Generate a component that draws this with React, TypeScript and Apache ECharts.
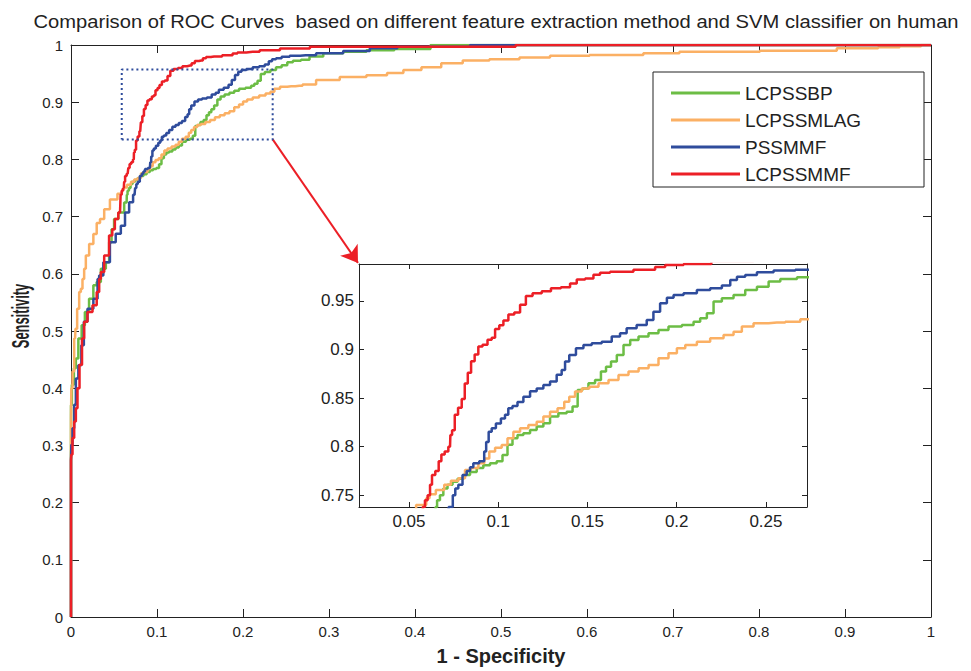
import React, { useEffect, useRef } from 'react';
import * as echarts from 'echarts';

const titleText = 'Comparison of ROC Curves  based on different feature extraction method and SVM classifier on human';
const xName = '1 - Specificity';
const yName = 'Sensitivity';
const seriesNames = ['LCPSSBP', 'LCPSSMLAG', 'PSSMMF', 'LCPSSMMF'];
const seriesColors = ['#6cbd45', '#fbb064', '#2f4c9c', '#ec1f26'];

const lcpssbp: number[][] = [
  [0, 0], [0, 0.37], [0.002, 0.406], [0.0047, 0.435], [0.0066, 0.452], [0.0105, 0.487], [0.0143, 0.51],
  [0.018, 0.533], [0.024, 0.5565], [0.028, 0.58], [0.0318, 0.5855], [0.0376, 0.609], [0.0434, 0.62],
  [0.0453, 0.655], [0.049, 0.678], [0.0512, 0.696], [0.059, 0.707], [0.0647, 0.7246], [0.0651, 0.738],
  [0.0664, 0.745], [0.0683, 0.75], [0.0702, 0.757], [0.073, 0.761], [0.0758, 0.764], [0.0786, 0.767],
  [0.0823, 0.771], [0.0861, 0.774], [0.0898, 0.778], [0.0935, 0.781], [0.0973, 0.783], [0.101, 0.785],
  [0.1038, 0.7915], [0.1066, 0.802], [0.1094, 0.8087], [0.1122, 0.812], [0.116, 0.8138], [0.1197, 0.8172],
  [0.1234, 0.8207], [0.1272, 0.8241], [0.1309, 0.831], [0.1365, 0.8344], [0.1402, 0.836], [0.1431, 0.8413],
  [0.1459, 0.8584], [0.1487, 0.86], [0.1524, 0.8653], [0.1561, 0.8687], [0.159, 0.8773], [0.1618, 0.8824],
  [0.1646, 0.8876], [0.1683, 0.8944], [0.1721, 0.9047], [0.1758, 0.9099], [0.1814, 0.9133], [0.187, 0.9167],
  [0.1926, 0.9202], [0.1982, 0.9236], [0.2076, 0.9253], [0.2113, 0.9287], [0.215, 0.9322], [0.2188, 0.9373],
  [0.2225, 0.9493], [0.2281, 0.9527], [0.2356, 0.9562], [0.2412, 0.9613], [0.2487, 0.9647], [0.2543, 0.9699],
  [0.2618, 0.9726], [0.273, 0.9744], [0.2817, 0.98], [0.305, 0.9855], [0.328, 0.988], [0.359, 0.991],
  [0.393, 0.993], [0.418, 0.993], [0.418, 1], [1, 1],
];

const lcpssmlag: number[][] = [
  [0, 0], [0, 0.348], [0.0008, 0.4], [0.0027, 0.429], [0.0047, 0.487], [0.0058, 0.504], [0.0085, 0.539],
  [0.0105, 0.568], [0.0124, 0.574], [0.0143, 0.591], [0.0163, 0.6087], [0.0182, 0.632], [0.024, 0.652],
  [0.028, 0.6696], [0.0318, 0.689], [0.0357, 0.696], [0.0415, 0.713], [0.049, 0.73], [0.059, 0.74],
  [0.0603, 0.747], [0.0627, 0.751], [0.0674, 0.7555], [0.0721, 0.761], [0.0749, 0.765], [0.0805, 0.7675],
  [0.0823, 0.776], [0.087, 0.778], [0.0908, 0.783], [0.0936, 0.788], [0.0964, 0.795], [0.1001, 0.799],
  [0.1038, 0.8018], [0.1066, 0.8087], [0.1104, 0.8155], [0.1141, 0.819], [0.1197, 0.8224], [0.1234, 0.8258],
  [0.1272, 0.831], [0.1309, 0.836], [0.1356, 0.8395], [0.1384, 0.8464], [0.1412, 0.8515], [0.1449, 0.8567],
  [0.1487, 0.86], [0.1534, 0.8618], [0.159, 0.8653], [0.1646, 0.8687], [0.1702, 0.8738], [0.1758, 0.8773],
  [0.1815, 0.8807], [0.187, 0.8841], [0.1926, 0.891], [0.1982, 0.8961], [0.202, 0.9013], [0.2076, 0.9047],
  [0.215, 0.9081], [0.2225, 0.9116], [0.23, 0.915], [0.2337, 0.9184], [0.2393, 0.9236], [0.2468, 0.927],
  [0.2561, 0.9277], [0.2655, 0.9287], [0.273, 0.9311], [0.297, 0.939], [0.328, 0.944], [0.359, 0.947],
  [0.376, 0.951], [0.397, 0.9565], [0.418, 0.961], [0.443, 0.968], [0.468, 0.9727], [0.505, 0.975],
  [0.538, 0.978], [0.576, 0.981], [0.63, 0.9826], [0.701, 0.9855], [0.714, 0.988], [0.888, 0.99],
  [0.893, 0.9942], [0.934, 0.9942], [0.943, 0.996], [0.984, 0.998], [0.993, 1], [1, 1],
];

const pssmmf: number[][] = [
  [0, 0], [0, 0.275], [0.0008, 0.301], [0.0027, 0.33], [0.0047, 0.371], [0.0066, 0.417], [0.0105, 0.44],
  [0.0136, 0.475], [0.0163, 0.516], [0.022, 0.539], [0.03, 0.5565], [0.0318, 0.591], [0.0337, 0.597],
  [0.0415, 0.62], [0.049, 0.655], [0.055, 0.67], [0.0609, 0.684], [0.0647, 0.707], [0.0705, 0.725],
  [0.0739, 0.738], [0.0752, 0.75], [0.0767, 0.757], [0.0786, 0.761], [0.0814, 0.771], [0.0833, 0.775],
  [0.0851, 0.779], [0.087, 0.783], [0.0917, 0.785], [0.0926, 0.795], [0.0939, 0.805], [0.0954, 0.8155],
  [0.0973, 0.819], [0.1001, 0.824], [0.1029, 0.829], [0.1047, 0.833], [0.1066, 0.8395], [0.1094, 0.842],
  [0.1122, 0.846], [0.116, 0.8515], [0.1197, 0.857], [0.1234, 0.86], [0.1272, 0.8635], [0.1309, 0.867],
  [0.1346, 0.874], [0.1365, 0.879], [0.1384, 0.8876], [0.1412, 0.8944], [0.1459, 0.9013], [0.1496, 0.9047],
  [0.1552, 0.9064], [0.1608, 0.9081], [0.1664, 0.9133], [0.1701, 0.9167], [0.1738, 0.9219], [0.1813, 0.9253],
  [0.1851, 0.9304], [0.1888, 0.939], [0.1926, 0.9476], [0.1964, 0.9534], [0.2001, 0.9562], [0.2076, 0.9579],
  [0.215, 0.9613], [0.2225, 0.963], [0.2281, 0.9658], [0.2319, 0.9716], [0.2356, 0.975], [0.2412, 0.9768],
  [0.2487, 0.9795], [0.2599, 0.9812], [0.273, 0.9822], [0.297, 0.9855], [0.336, 0.9896], [0.359, 0.9942],
  [0.4, 0.997], [0.464, 0.997], [0.464, 1], [1, 1],
];

const lcpssmmf: number[][] = [
  [0, 0], [0, 0.274], [0.0008, 0.284], [0.0027, 0.313], [0.0047, 0.342], [0.0066, 0.365], [0.0085, 0.4],
  [0.0113, 0.441], [0.0143, 0.487], [0.0163, 0.516], [0.022, 0.533], [0.028, 0.545], [0.0318, 0.568],
  [0.0337, 0.591], [0.0357, 0.603], [0.0415, 0.632], [0.047, 0.667], [0.049, 0.678], [0.053, 0.696],
  [0.057, 0.707], [0.0584, 0.738], [0.0595, 0.745], [0.0614, 0.75], [0.0622, 0.761], [0.0636, 0.771],
  [0.0659, 0.775], [0.0674, 0.785], [0.0689, 0.792], [0.0711, 0.795], [0.073, 0.8], [0.0734, 0.812],
  [0.0749, 0.817], [0.0764, 0.833], [0.0786, 0.84], [0.0805, 0.849], [0.082, 0.865], [0.0839, 0.876],
  [0.0857, 0.888], [0.0879, 0.895], [0.0898, 0.903], [0.0926, 0.905], [0.0954, 0.91], [0.0973, 0.912],
  [0.0992, 0.921], [0.102, 0.925], [0.1038, 0.93], [0.1076, 0.936], [0.1104, 0.938], [0.1141, 0.946],
  [0.1169, 0.955], [0.1216, 0.958], [0.1272, 0.96], [0.1319, 0.963], [0.1384, 0.964], [0.1421, 0.968],
  [0.1459, 0.972], [0.1515, 0.973], [0.1552, 0.977], [0.1589, 0.979], [0.1664, 0.98], [0.1851, 0.982],
  [0.1907, 0.985], [0.1964, 0.987], [0.2113, 0.988], [0.2275, 0.991], [0.2585, 0.994], [0.297, 0.997],
  [0.517, 0.997], [0.517, 1], [1, 1],
];

const seriesData = [lcpssbp, lcpssmlag, pssmmf, lcpssmmf];

// zoom box (data coordinates of main axes) and inset ranges
const zoomBoxX = [0.059, 0.2345];
const zoomBoxY = [0.835, 0.957];
const arrowTip = [0.3337, 0.619];
const insetXRange = [0.022, 0.273];
const insetYRange = [0.738, 0.988];

const FONT = '"Liberation Sans", Arial, Helvetica, sans-serif';
const INK = '#222';

export default function App() {
  const ref = useRef<HTMLDivElement>(null);
  useEffect(() => {
    const chart = echarts.init(ref.current!, null, { renderer: 'svg' });
    const tickInside = (len: number) => ({ show: true, inside: true, length: len, lineStyle: { color: INK, width: 1 } });
    const axisLine = { show: true, onZero: false, lineStyle: { color: INK, width: 1 } };
    const mainSeries = seriesNames.map((n, i) => ({
      name: n, type: 'line', xAxisIndex: 0, yAxisIndex: 0, data: seriesData[i], step: 'middle',
      symbol: 'none', showSymbol: false, lineStyle: { color: seriesColors[i], width: 2.5 },
      itemStyle: { color: seriesColors[i] }, z: 3 + i, silent: true,
    }));
    const insetSeries = seriesNames.map((n, i) => ({
      name: n, type: 'line', xAxisIndex: 2, yAxisIndex: 2, data: seriesData[i], clip: true, step: 'middle',
      symbol: 'none', showSymbol: false, lineStyle: { color: seriesColors[i], width: 2.5 },
      itemStyle: { color: seriesColors[i] }, z: 3 + i, silent: true,
    }));
    const boxSeries = {
      name: 'zoombox', type: 'line', xAxisIndex: 0, yAxisIndex: 0, symbol: 'none', silent: true, z: 8,
      data: [[zoomBoxX[0], zoomBoxY[0]], [zoomBoxX[1], zoomBoxY[0]], [zoomBoxX[1], zoomBoxY[1]], [zoomBoxX[0], zoomBoxY[1]], [zoomBoxX[0], zoomBoxY[0]]],
      lineStyle: { color: '#2f4c9c', width: 2, type: [2, 3] },
      markLine: {
        silent: true, symbol: ['none', 'arrow'], symbolSize: 16, label: { show: false },
        lineStyle: { color: '#ec1f26', width: 2, type: 'solid' },
        data: [[{ coord: [zoomBoxX[1], zoomBoxY[0]] }, { coord: arrowTip }]],
      },
    };
    chart.setOption({
      animation: false,
      backgroundColor: '#fff',
      textStyle: { fontFamily: FONT },
      grid: [
        { left: 71, top: 45, width: 860, height: 575 },
        { left: 359, top: 264, width: 448, height: 243 },
      ],
      xAxis: [
        {
          type: 'value', gridIndex: 0, min: 0, max: 1, interval: 0.1, position: 'bottom',
          axisLine, axisTick: tickInside(8), splitLine: { show: false },
          axisLabel: { fontSize: 15, color: INK, margin: 7, fontFamily: FONT },
          name: xName, nameLocation: 'middle', nameGap: 29,
          nameTextStyle: { fontSize: 20, fontWeight: 'bold', color: INK, fontFamily: FONT },
        },
        {
          type: 'value', gridIndex: 0, min: 0, max: 1, interval: 0.1, position: 'top',
          axisLine, axisTick: tickInside(8), splitLine: { show: false }, axisLabel: { show: false },
        },
        {
          type: 'value', gridIndex: 1, min: insetXRange[0], max: insetXRange[1], position: 'bottom',
          axisLine, axisTick: tickInside(5), splitLine: { show: false },
          axisLabel: { fontSize: 17, color: INK, margin: 6, showMinLabel: false, showMaxLabel: false, fontFamily: FONT },
        },
        {
          type: 'value', gridIndex: 1, min: insetXRange[0], max: insetXRange[1], position: 'top',
          axisLine, axisTick: tickInside(5), splitLine: { show: false }, axisLabel: { show: false },
        },
      ],
      yAxis: [
        {
          type: 'value', gridIndex: 0, min: 0, max: 1, interval: 0.1, position: 'left',
          axisLine, axisTick: tickInside(8), splitLine: { show: false },
          axisLabel: { fontSize: 15, color: INK, margin: 8, fontFamily: FONT },
        },
        {
          type: 'value', gridIndex: 0, min: 0, max: 1, interval: 0.1, position: 'right',
          axisLine, axisTick: tickInside(8), splitLine: { show: false }, axisLabel: { show: false },
        },
        {
          type: 'value', gridIndex: 1, min: insetYRange[0], max: insetYRange[1], position: 'left',
          axisLine, axisTick: tickInside(5), splitLine: { show: false },
          axisLabel: { fontSize: 17, color: INK, margin: 5, showMinLabel: false, showMaxLabel: false, fontFamily: FONT },
        },
        {
          type: 'value', gridIndex: 1, min: insetYRange[0], max: insetYRange[1], position: 'right',
          axisLine, axisTick: tickInside(5), splitLine: { show: false }, axisLabel: { show: false },
        },
      ],
      legend: {
        data: seriesNames.map((n) => ({ name: n, icon: 'rect' })), orient: 'vertical', left: 666, top: 78,
        itemWidth: 69, itemHeight: 3, itemGap: 7,
        textStyle: { fontSize: 19, color: INK, lineHeight: 20, fontFamily: FONT }, selectedMode: false, z: 10,
      },
      graphic: [
        { type: 'rect', z: 9, shape: { x: 653, y: 72, width: 271, height: 115 }, style: { fill: '#fff', stroke: INK, lineWidth: 1 } },
        {
          type: 'text', x: 496, y: 21, scaleX: 1.09, scaleY: 1,
          style: { text: titleText, fontSize: 18.5, fill: INK, fontFamily: FONT, textAlign: 'center', textVerticalAlign: 'middle' },
        },
        {
          type: 'text', x: 21, y: 316, rotation: Math.PI / 2, scaleX: 0.56, scaleY: 1,
          style: { text: yName, fontSize: 23, fontWeight: 'bold', fill: INK, fontFamily: FONT, textAlign: 'center', textVerticalAlign: 'middle' },
        },
      ],
      series: [...mainSeries, ...insetSeries, boxSeries],
    });
    return () => chart.dispose();
  }, []);
  return <div ref={ref} style={{ position: 'fixed', left: 0, top: 0, width: 971, height: 671 }} />;
}
